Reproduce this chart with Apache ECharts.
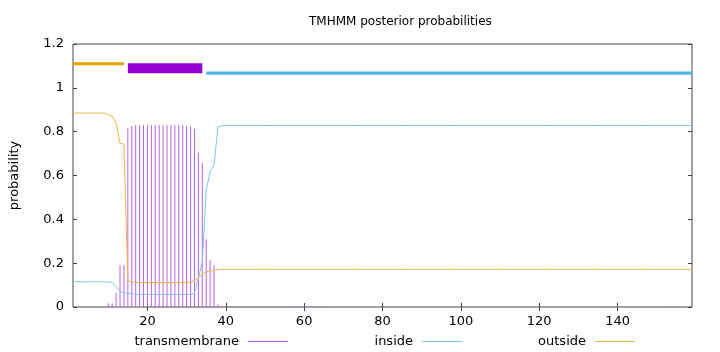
<!DOCTYPE html>
<html>
<head>
<meta charset="utf-8">
<script src="https://cdn.jsdelivr.net/npm/echarts@6/dist/echarts.min.js"></script>
<style>
html,body{margin:0;padding:0;background:#fff;}
#chart{width:720px;height:352px;}
</style>
</head>
<body>
<div id="chart"></div>
<script>
// ---- data ----
const residues = [
  1,2,3,4,5,6,7,8,9,10,11,12,13,14,15,16,17,18,19,20,
  21,22,23,24,25,26,27,28,29,30,31,32,33,34,35,36,37,38,39,40,
  41,42,43,44,45,46,47,48,49,50,51,52,53,54,55,56,57,58,59,60,
  61,62,63,64,65,66,67,68,69,70,71,72,73,74,75,76,77,78,79,80,
  81,82,83,84,85,86,87,88,89,90,91,92,93,94,95,96,97,98,99,100,
  101,102,103,104,105,106,107,108,109,110,111,112,113,114,115,116,117,118,119,120,
  121,122,123,124,125,126,127,128,129,130,131,132,133,134,135,136,137,138,139,140,
  141,142,143,144,145,146,147,148,149,150,151,152,153,154,155,156,157,158,159
];
const transmembrane = [
  0,0,0,0,0,0,0,0,0,0.017,0.017,0.065,0.190,0.190,0.818,0.826,0.830,0.830,0.830,0.830,
  0.830,0.830,0.830,0.830,0.830,0.830,0.830,0.830,0.828,0.826,0.822,0.812,0.704,0.658,0.309,0.214,0.190,0.012,0.003,0.003,
  0.003,0.003,0.003,0.003,0.003,0.003,0.003,0.003,0.003,0.003,0.003,0.003,0.003,0.003,0.003,0.003,0.003,0.003,0.003,0.003,
  0.003,0.003,0.003,0.003,0.003,0.003,0.003,0,0,0,0,0,0,0,0,0,0,0,0,0,
  0,0,0,0,0,0,0,0,0,0,0,0,0,0,0,0,0,0,0,0,
  0,0,0,0,0,0,0,0,0,0,0,0,0,0,0,0,0,0,0,0,
  0,0,0,0,0,0,0,0,0,0,0,0,0,0,0.003,0.003,0.003,0.003,0.003,0.003,
  0.003,0.003,0.003,0.003,0.003,0.003,0.003,0.003,0.003,0.003,0.003,0.003,0.003,0.003,0.003,0.003,0.003,0,0
];
const inside = [
  0.115,0.115,0.115,0.115,0.115,0.115,0.115,0.115,0.115,0.114,0.113,0.093,0.071,0.066,0.062,0.060,0.058,0.058,0.058,0.058,
  0.058,0.058,0.058,0.058,0.058,0.058,0.058,0.058,0.058,0.058,0.058,0.062,0.131,0.205,0.531,0.618,0.648,0.822,0.828,0.828,
  0.828,0.828,0.828,0.828,0.828,0.828,0.828,0.828,0.828,0.828,0.828,0.828,0.828,0.828,0.828,0.828,0.828,0.828,0.828,0.828,
  0.828,0.828,0.828,0.828,0.828,0.828,0.828,0.828,0.828,0.828,0.828,0.828,0.828,0.828,0.828,0.828,0.828,0.828,0.828,0.828,
  0.828,0.828,0.828,0.828,0.828,0.828,0.828,0.828,0.828,0.828,0.828,0.828,0.828,0.828,0.828,0.828,0.828,0.828,0.828,0.828,
  0.828,0.828,0.828,0.828,0.828,0.828,0.828,0.828,0.828,0.828,0.828,0.828,0.828,0.828,0.828,0.828,0.828,0.828,0.828,0.828,
  0.828,0.828,0.828,0.828,0.828,0.828,0.828,0.828,0.828,0.828,0.828,0.828,0.828,0.828,0.828,0.828,0.828,0.828,0.828,0.828,
  0.828,0.828,0.828,0.828,0.828,0.828,0.828,0.828,0.828,0.828,0.828,0.828,0.828,0.828,0.828,0.828,0.828,0.828,0.828
];
const outside = [
  0.885,0.885,0.885,0.885,0.885,0.885,0.885,0.885,0.885,0.878,0.870,0.840,0.746,0.744,0.121,0.113,0.112,0.112,0.112,0.112,
  0.112,0.112,0.112,0.112,0.112,0.112,0.112,0.112,0.112,0.112,0.114,0.120,0.134,0.150,0.160,0.164,0.167,0.170,0.172,0.172,
  0.172,0.172,0.172,0.172,0.172,0.172,0.172,0.172,0.172,0.172,0.172,0.172,0.172,0.172,0.172,0.172,0.172,0.172,0.172,0.172,
  0.172,0.172,0.172,0.172,0.172,0.172,0.172,0.172,0.172,0.172,0.172,0.172,0.172,0.172,0.172,0.172,0.172,0.172,0.172,0.172,
  0.172,0.172,0.172,0.172,0.172,0.172,0.172,0.172,0.172,0.172,0.172,0.172,0.172,0.172,0.172,0.172,0.172,0.172,0.172,0.172,
  0.172,0.172,0.172,0.172,0.172,0.172,0.172,0.172,0.172,0.172,0.172,0.172,0.172,0.172,0.172,0.172,0.172,0.172,0.172,0.172,
  0.172,0.172,0.172,0.172,0.172,0.172,0.172,0.172,0.172,0.172,0.172,0.172,0.172,0.172,0.172,0.172,0.172,0.172,0.172,0.172,
  0.172,0.172,0.172,0.172,0.172,0.172,0.172,0.172,0.172,0.172,0.172,0.172,0.172,0.172,0.172,0.172,0.172,0.172,0.172
];
// predicted topology segments drawn above the curves
const segmentType  = ['outside', 'TMhelix', 'inside'];
const segmentStart = [1, 15, 35];
const segmentEnd   = [14, 34, 159];
const segmentLow   = [1.103, 1.066, 1.060];
const segmentHigh  = [1.117, 1.112, 1.074];
const xTicks = [20, 40, 60, 80, 100, 120, 140];

// ---- build ----
const FONT = 'DejaVu Sans';
const C_TM = '#b564e6', C_IN = '#7cc6ee', C_OUT = '#f2b544';
const SEG_COL = {outside: '#E69F00', TMhelix: '#9400D3', inside: '#56B4E9'};

const zip = (a, b) => a.map((v, i) => [v, b[i]]);
const segData = segmentType.map((t, i) => [segmentStart[i], segmentEnd[i], segmentLow[i], segmentHigh[i], t]);

const tickCommon = {show: true, inside: true, length: 4, lineStyle: {color: '#444', width: 1}};

const chart = echarts.init(document.getElementById('chart'), null, {renderer: 'canvas'});
chart.setOption({
  animation: false,
  backgroundColor: '#fff',
  title: {
    text: 'TMHMM posterior probabilities',
    left: 304, top: 11,
    textStyle: {fontFamily: FONT, fontSize: 12, fontWeight: 'normal', color: '#000'}
  },
  grid: {left: 73, right: 28, top: 44, bottom: 45, show: true, borderColor: '#444', borderWidth: 1, backgroundColor: 'transparent'},
  xAxis: [{
    type: 'value', min: 1, max: 159, position: 'bottom', splitNumber: 8,
    axisLine: {show: false}, splitLine: {show: false},
    axisTick: Object.assign({customValues: xTicks}, tickCommon),
    axisLabel: {customValues: xTicks, showMinLabel: true, showMaxLabel: true, margin: 8,
      fontFamily: FONT, fontSize: 13, color: '#000'}
  }, {
    type: 'value', min: 1, max: 159, position: 'top', splitNumber: 8,
    axisLine: {show: false}, splitLine: {show: false},
    axisTick: Object.assign({customValues: xTicks}, tickCommon),
    axisLabel: {show: false}
  }],
  yAxis: [{
    type: 'value', min: 0, max: 1.2, interval: 0.2, position: 'left',
    name: 'probability', nameLocation: 'middle', nameGap: 52, nameRotate: 90,
    nameTextStyle: {fontFamily: FONT, fontSize: 13, color: '#000'},
    axisLine: {show: false}, splitLine: {show: false},
    axisTick: tickCommon,
    axisLabel: {margin: 9, fontFamily: FONT, fontSize: 13, color: '#000',
      formatter: v => String(+v.toFixed(1))}
  }, {
    type: 'value', min: 0, max: 1.2, interval: 0.2, position: 'right',
    axisLine: {show: false}, splitLine: {show: false},
    axisTick: tickCommon, axisLabel: {show: false}
  }],
  legend: [
    {data: [{name: 'transmembrane', itemStyle: {color: C_TM}}], right: 427, top: 330},
    {data: [{name: 'inside', itemStyle: {color: C_IN}}], right: 253, top: 330},
    {data: [{name: 'outside', itemStyle: {color: C_OUT}}], right: 80, top: 330}
  ].map(l => Object.assign({
    orient: 'horizontal', align: 'right', icon: 'rect', itemWidth: 40, itemHeight: 1,
    selectedMode: false,
    textStyle: {fontFamily: FONT, fontSize: 13, color: '#000', padding: [0, 4, 0, 0]}
  }, l)),
  series: [
    {
      name: 'transmembrane', type: 'bar', barWidth: 1,
      data: zip(residues, transmembrane),
      itemStyle: {color: C_TM}, z: 2
    },
    {
      name: 'inside', type: 'line', data: zip(residues, inside),
      showSymbol: false, symbol: 'none',
      lineStyle: {color: C_IN, width: 1}, itemStyle: {color: C_IN}, z: 3
    },
    {
      name: 'outside', type: 'line', data: zip(residues, outside),
      showSymbol: false, symbol: 'none',
      lineStyle: {color: C_OUT, width: 1}, itemStyle: {color: C_OUT}, z: 3
    },
    {
      name: 'topology', type: 'custom', data: segData, z: 4,
      renderItem: (params, api) => {
        const p0 = api.coord([api.value(0), api.value(3)]);
        const p1 = api.coord([api.value(1), api.value(2)]);
        const t = segData[params.dataIndex][4];
        return {type: 'rect', shape: {x: p0[0], y: p0[1], width: p1[0] - p0[0], height: p1[1] - p0[1]},
          style: {fill: SEG_COL[t]}};
      },
      encode: {x: [0, 1], y: [2, 3]}
    }
  ]
});
</script>
</body>
</html>
